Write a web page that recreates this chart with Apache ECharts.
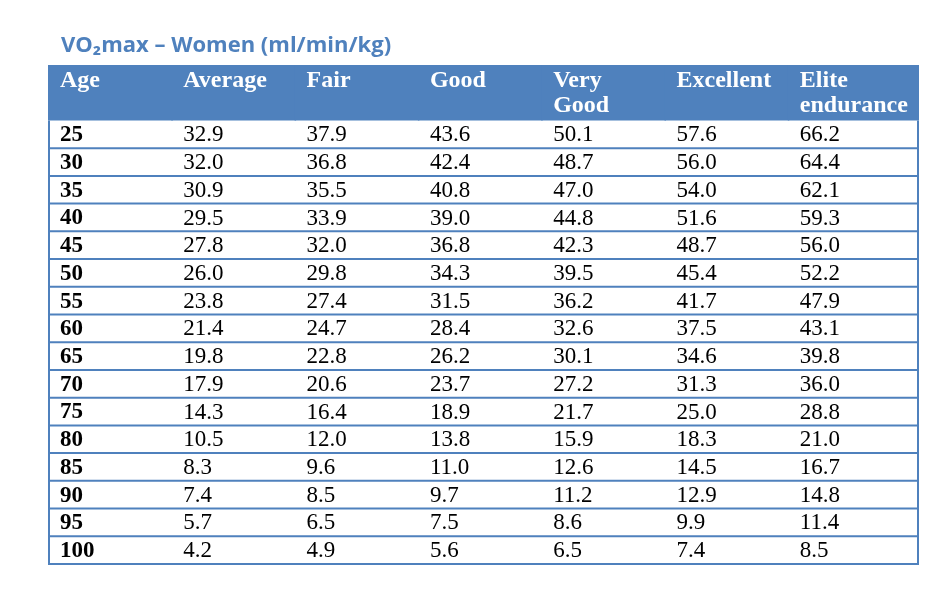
<!DOCTYPE html>
<html>
<head>
<meta charset="utf-8">
<style>
  html, body { margin: 0; padding: 0; background: #fff; }
  #chart { width: 937px; height: 589px; }
</style>
<script src="https://cdn.jsdelivr.net/npm/echarts@6/dist/echarts.min.js"></script>
</head>
<body>
<div id="chart"></div>
<script>
// table content
const columns = ['Age', 'Average', 'Fair', 'Good', 'Very\nGood', 'Excellent', 'Elite\nendurance']
const ages = [25, 30, 35, 40, 45, 50, 55, 60, 65, 70, 75, 80, 85, 90, 95, 100]
const average = [32.9, 32.0, 30.9, 29.5, 27.8, 26.0, 23.8, 21.4, 19.8, 17.9, 14.3, 10.5, 8.3, 7.4, 5.7, 4.2]
const fair = [37.9, 36.8, 35.5, 33.9, 32.0, 29.8, 27.4, 24.7, 22.8, 20.6, 16.4, 12.0, 9.6, 8.5, 6.5, 4.9]
const good = [43.6, 42.4, 40.8, 39.0, 36.8, 34.3, 31.5, 28.4, 26.2, 23.7, 18.9, 13.8, 11.0, 9.7, 7.5, 5.6]
const veryGood = [50.1, 48.7, 47.0, 44.8, 42.3, 39.5, 36.2, 32.6, 30.1, 27.2, 21.7, 15.9, 12.6, 11.2, 8.6, 6.5]
const excellent = [57.6, 56.0, 54.0, 51.6, 48.7, 45.4, 41.7, 37.5, 34.6, 31.3, 25.0, 18.3, 14.5, 12.9, 9.9, 7.4]
const elite = [66.2, 64.4, 62.1, 59.3, 56.0, 52.2, 47.9, 43.1, 39.8, 36.0, 28.8, 21.0, 16.7, 14.8, 11.4, 8.5]

const BLUE = '#4f81bd'
const FONT = "'Liberation Serif', 'DejaVu Serif', serif"
const HEADER_ROWS = 2   // header spans two row units

const valueCols = [average, fair, good, veryGood, excellent, elite]

// header cells: [colIndex, label]
const headerData = columns.map((name, c) => [c, name])

// body cells: [colIndex, rowIndex, text]
const bodyData = []
ages.forEach((age, r) => {
  bodyData.push([0, r, String(age)])
  valueCols.forEach((col, i) => {
    bodyData.push([i + 1, r, col[r].toFixed(1)])
  })
})

// one rule under every body row
const ruleData = ages.map((age, r) => [r])

const chart = echarts.init(document.getElementById('chart'), null, { renderer: 'canvas' })

function cellRight(c, params, api) {
  // last column runs to the edge of the table
  if (c === columns.length - 1) return params.coordSys.x + params.coordSys.width
  return api.coord([c + 1, 0])[0] + 1.5  // overlap so no seam shows
}

const option = {
  backgroundColor: '#fff',
  animation: false,
  title: {
    text: 'VO₂max – Women (ml/min/kg)',
    left: 56,
    top: 30,
    textStyle: {
      color: BLUE,
      fontSize: 22,
      fontWeight: 'bold',
      fontFamily: "'Open Sans', 'Noto Sans', sans-serif"
    }
  },
  grid: { left: 48, right: 18, top: 65, bottom: 25 },
  xAxis: { type: 'value', min: 0, max: 7.064, show: false },
  yAxis: { type: 'value', min: 0, max: ages.length + HEADER_ROWS, inverse: true, show: false },
  series: [
    {
      type: 'custom',
      name: 'header',
      data: headerData,
      silent: true,
      z: 1,
      renderItem(params, api) {
        const c = api.value(0)
        const tl = api.coord([c, 0])
        const br = api.coord([c, HEADER_ROWS])
        const right = cellRight(c, params, api)
        return {
          type: 'group',
          children: [
            {
              type: 'rect',
              shape: { x: tl[0], y: tl[1], width: right - tl[0], height: br[1] - tl[1] },
              style: { fill: BLUE }
            },
            {
              type: 'text',
              x: tl[0] + 12,
              y: tl[1] + 3,
              z2: 10,
              style: {
                text: columns[c],
                fill: '#fff',
                font: 'bold 24px ' + FONT,
                lineHeight: 25,
                verticalAlign: 'top',
                align: 'left'
              }
            }
          ]
        }
      }
    },
    {
      type: 'custom',
      name: 'body',
      data: bodyData,
      silent: true,
      z: 2,
      renderItem(params, api) {
        const c = api.value(0)
        const r = api.value(1)
        const tl = api.coord([c, r + HEADER_ROWS])
        const br = api.coord([c, r + HEADER_ROWS + 1])
        return {
          type: 'text',
          x: tl[0] + 12,
          y: (tl[1] + br[1]) / 2 + 1,
          style: {
            text: bodyData[params.dataIndex][2],
            fill: '#000',
            font: (c === 0 ? 'bold ' : '') + '23px ' + FONT,
            verticalAlign: 'middle',
            align: 'left'
          }
        }
      }
    },
    {
      type: 'custom',
      name: 'rules',
      data: ruleData,
      silent: true,
      z: 5,
      renderItem(params, api) {
        const r = api.value(0)
        const y = api.coord([0, r + HEADER_ROWS + 1])[1]
        const cs = params.coordSys
        return {
          type: 'line',
          shape: { x1: cs.x, y1: y, x2: cs.x + cs.width, y2: y },
          style: { stroke: BLUE, lineWidth: 2 }
        }
      }
    },
    {
      type: 'custom',
      name: 'frame',
      data: [[0], [1]],
      silent: true,
      z: 5,
      renderItem(params, api) {
        const cs = params.coordSys
        const top = api.coord([0, HEADER_ROWS])[1]
        const bottom = api.coord([0, ages.length + HEADER_ROWS])[1]
        const x = api.value(0) === 0 ? cs.x + 1 : cs.x + cs.width - 1
        return {
          type: 'line',
          shape: { x1: x, y1: top, x2: x, y2: bottom + 1 },
          style: { stroke: BLUE, lineWidth: 2 }
        }
      }
    }
  ]
}

chart.setOption(option)
</script>
</body>
</html>
